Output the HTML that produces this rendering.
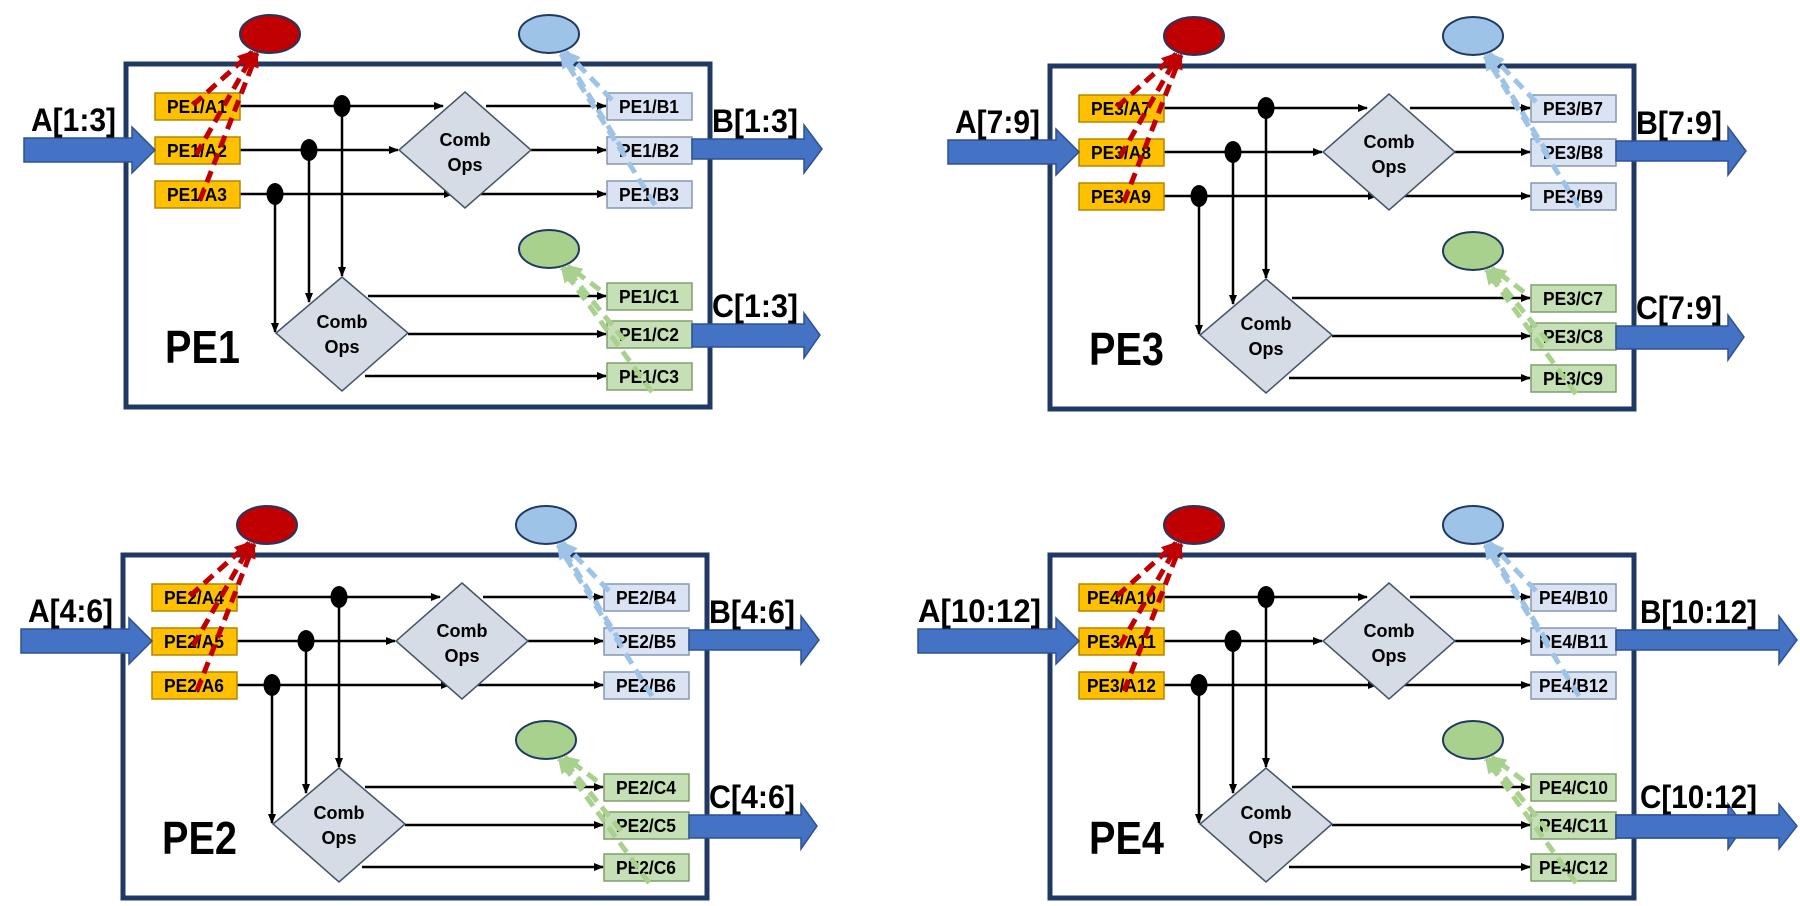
<!DOCTYPE html>
<html><head><meta charset="utf-8"><style>
html,body{margin:0;padding:0;background:#fff;}
svg{display:block;}
text{font-family:"Liberation Sans",sans-serif;font-weight:bold;fill:#000;}
.bl{font-size:18px;}
.co{font-size:18px;font-weight:normal;}
.big{font-size:32px;}
.pe{font-size:46px;}
</style></head><body>
<svg width="1800" height="906" viewBox="0 0 1800 906" xmlns="http://www.w3.org/2000/svg">
<defs>
<marker id="ah" markerWidth="10" markerHeight="8" refX="9" refY="4" orient="auto" markerUnits="userSpaceOnUse">
<path d="M0,0 L10,4 L0,8 z" fill="#000"/></marker>
<marker id="rh" markerWidth="16" markerHeight="14" refX="14" refY="7" orient="auto" markerUnits="userSpaceOnUse">
<path d="M0,0 L16,7 L0,14 z" fill="#c00000"/></marker>
<marker id="bh" markerWidth="16" markerHeight="14" refX="14" refY="7" orient="auto" markerUnits="userSpaceOnUse">
<path d="M0,0 L16,7 L0,14 z" fill="#9dc3e6"/></marker>
<marker id="gh" markerWidth="16" markerHeight="14" refX="14" refY="7" orient="auto" markerUnits="userSpaceOnUse">
<path d="M0,0 L16,7 L0,14 z" fill="#a9d18e"/></marker>
<g id="panel">
<rect x="126" y="64" width="584" height="343" fill="#fff" stroke="#1f3864" stroke-width="5"/>
<g stroke="#000" stroke-width="2.5" fill="none">
<line x1="240" y1="106" x2="443" y2="106" marker-end="url(#ah)"/>
<line x1="486" y1="106" x2="606" y2="106" marker-end="url(#ah)"/>
<line x1="240" y1="150" x2="398" y2="150" marker-end="url(#ah)"/>
<line x1="531" y1="150" x2="606" y2="150" marker-end="url(#ah)"/>
<line x1="240" y1="194" x2="453" y2="194" marker-end="url(#ah)"/>
<line x1="476" y1="194" x2="606" y2="194" marker-end="url(#ah)"/>
<line x1="342" y1="106" x2="342" y2="276" marker-end="url(#ah)"/>
<line x1="309" y1="150" x2="309" y2="302" marker-end="url(#ah)"/>
<line x1="275" y1="194" x2="275" y2="332" marker-end="url(#ah)"/>
<line x1="368" y1="296" x2="606" y2="296" marker-end="url(#ah)"/>
<line x1="408" y1="334" x2="606" y2="334" marker-end="url(#ah)"/>
<line x1="365" y1="376" x2="606" y2="376" marker-end="url(#ah)"/>
</g>
<polygon points="465,92 531,150 465,208 399,150" fill="#d6dce5" stroke="#44546a" stroke-width="1.5"/>
<polygon points="342,277 408,333 342,391 276,333" fill="#d6dce5" stroke="#44546a" stroke-width="1.5"/>
<ellipse cx="342" cy="106" rx="8.5" ry="11" fill="#000"/>
<ellipse cx="309" cy="150" rx="8.5" ry="11" fill="#000"/>
<ellipse cx="275" cy="194" rx="8.5" ry="11" fill="#000"/>
<g stroke-width="1.5">
<rect x="155" y="93" width="85" height="27" fill="#ffc000" stroke="#b38600"/>
<rect x="155" y="137" width="85" height="27" fill="#ffc000" stroke="#b38600"/>
<rect x="155" y="181" width="85" height="27" fill="#ffc000" stroke="#b38600"/>
<rect x="607" y="93" width="85" height="27" fill="#dae3f3" stroke="#8497b0"/>
<rect x="607" y="137" width="85" height="27" fill="#dae3f3" stroke="#8497b0"/>
<rect x="607" y="181" width="85" height="27" fill="#dae3f3" stroke="#8497b0"/>
<rect x="607" y="283" width="85" height="27" fill="#c5e0b4" stroke="#7f9f6f"/>
<rect x="607" y="321" width="85" height="27" fill="#c5e0b4" stroke="#7f9f6f"/>
<rect x="607" y="363" width="85" height="27" fill="#c5e0b4" stroke="#7f9f6f"/>
</g>
<ellipse cx="270" cy="34" rx="30" ry="19" fill="#c00000" stroke="#1f3864" stroke-width="2"/>
<ellipse cx="549" cy="34" rx="30" ry="19" fill="#9dc3e6" stroke="#1f3864" stroke-width="2"/>
<ellipse cx="549" cy="249" rx="30" ry="19" fill="#a9d18e" stroke="#1f3864" stroke-width="2"/>
<polygon points="692,324 804,324 804,313 820,335 804,358 804,347 692,347" fill="#4472c4" stroke="#2f528f" stroke-width="1.5"/>
</g>
<g id="dash">
<g stroke-width="5" stroke-dasharray="12,7" fill="none">
<line x1="193" y1="105" x2="252" y2="52" stroke="#c00000" marker-end="url(#rh)"/>
<line x1="196" y1="155" x2="254" y2="53" stroke="#c00000" marker-end="url(#rh)"/>
<line x1="200" y1="200" x2="257" y2="53" stroke="#c00000" marker-end="url(#rh)"/>
<line x1="612" y1="100" x2="566" y2="52" stroke="#9dc3e6" marker-end="url(#bh)"/>
<line x1="624" y1="152" x2="563" y2="53" stroke="#9dc3e6" marker-end="url(#bh)"/>
<line x1="655" y1="205" x2="561" y2="54" stroke="#9dc3e6" marker-end="url(#bh)"/>
<line x1="600" y1="290" x2="568" y2="266" stroke="#a9d18e" marker-end="url(#gh)"/>
<line x1="624" y1="340" x2="565" y2="267" stroke="#a9d18e" marker-end="url(#gh)"/>
<line x1="652" y1="392" x2="562" y2="268" stroke="#a9d18e" marker-end="url(#gh)"/>
</g>
</g>
</defs>

<!-- PE1 -->
<g transform="translate(0,0)">
<use href="#panel"/>
<polygon points="24,138 132,138 132,127 155,150 132,173 132,162 24,162" fill="#4472c4" stroke="#2f528f" stroke-width="1.5"/>
<polygon points="692,139 804,139 804,125 822,149 804,173 804,159 692,159" fill="#4472c4" stroke="#2f528f" stroke-width="1.5"/>
<g class="bl" lengthAdjust="spacingAndGlyphs">
<text x="167" y="113" textLength="60" lengthAdjust="spacingAndGlyphs">PE1/A1</text><text x="167" y="157" textLength="60" lengthAdjust="spacingAndGlyphs">PE1/A2</text><text x="167" y="201" textLength="60" lengthAdjust="spacingAndGlyphs">PE1/A3</text>
<text x="619" y="113" textLength="60" lengthAdjust="spacingAndGlyphs">PE1/B1</text><text x="619" y="157" textLength="60" lengthAdjust="spacingAndGlyphs">PE1/B2</text><text x="619" y="201" textLength="60" lengthAdjust="spacingAndGlyphs">PE1/B3</text>
<text x="619" y="303" textLength="60" lengthAdjust="spacingAndGlyphs">PE1/C1</text><text x="619" y="341" textLength="60" lengthAdjust="spacingAndGlyphs">PE1/C2</text><text x="619" y="383" textLength="60" lengthAdjust="spacingAndGlyphs">PE1/C3</text>
</g>
<g class="co" text-anchor="middle"><text x="465" y="146">Comb</text><text x="465" y="171">Ops</text><text x="342" y="328">Comb</text><text x="342" y="353">Ops</text></g>
<text class="big" x="31" y="131" textLength="85" lengthAdjust="spacingAndGlyphs">A[1:3]</text><text class="big" x="712" y="132" textLength="86" lengthAdjust="spacingAndGlyphs">B[1:3]</text><text class="big" x="712" y="317" textLength="86" lengthAdjust="spacingAndGlyphs">C[1:3]</text>
<text class="pe" x="165" y="363" textLength="75" lengthAdjust="spacingAndGlyphs">PE1</text>
<use href="#dash"/>
</g>

<!-- PE3 -->
<g transform="translate(924,2)">
<use href="#panel"/>
<polygon points="24,138 132,138 132,127 155,150 132,173 132,162 24,162" fill="#4472c4" stroke="#2f528f" stroke-width="1.5"/>
<polygon points="692,139 804,139 804,125 822,149 804,173 804,159 692,159" fill="#4472c4" stroke="#2f528f" stroke-width="1.5"/>
<g class="bl">
<text x="167" y="113" textLength="60" lengthAdjust="spacingAndGlyphs">PE3/A7</text><text x="167" y="157" textLength="60" lengthAdjust="spacingAndGlyphs">PE3/A8</text><text x="167" y="201" textLength="60" lengthAdjust="spacingAndGlyphs">PE3/A9</text>
<text x="619" y="113" textLength="60" lengthAdjust="spacingAndGlyphs">PE3/B7</text><text x="619" y="157" textLength="60" lengthAdjust="spacingAndGlyphs">PE3/B8</text><text x="619" y="201" textLength="60" lengthAdjust="spacingAndGlyphs">PE3/B9</text>
<text x="619" y="303" textLength="60" lengthAdjust="spacingAndGlyphs">PE3/C7</text><text x="619" y="341" textLength="60" lengthAdjust="spacingAndGlyphs">PE3/C8</text><text x="619" y="383" textLength="60" lengthAdjust="spacingAndGlyphs">PE3/C9</text>
</g>
<g class="co" text-anchor="middle"><text x="465" y="146">Comb</text><text x="465" y="171">Ops</text><text x="342" y="328">Comb</text><text x="342" y="353">Ops</text></g>
<text class="big" x="31" y="131" textLength="85" lengthAdjust="spacingAndGlyphs">A[7:9]</text><text class="big" x="712" y="132" textLength="86" lengthAdjust="spacingAndGlyphs">B[7:9]</text><text class="big" x="712" y="317" textLength="86" lengthAdjust="spacingAndGlyphs">C[7:9]</text>
<text class="pe" x="165" y="363" textLength="75" lengthAdjust="spacingAndGlyphs">PE3</text>
<use href="#dash"/>
</g>

<!-- PE2 -->
<g transform="translate(-3,491)">
<use href="#panel"/>
<polygon points="24,138 132,138 132,127 155,150 132,173 132,162 24,162" fill="#4472c4" stroke="#2f528f" stroke-width="1.5"/>
<polygon points="692,139 804,139 804,125 822,149 804,173 804,159 692,159" fill="#4472c4" stroke="#2f528f" stroke-width="1.5"/>
<g class="bl">
<text x="167" y="113" textLength="60" lengthAdjust="spacingAndGlyphs">PE2/A4</text><text x="167" y="157" textLength="60" lengthAdjust="spacingAndGlyphs">PE2/A5</text><text x="167" y="201" textLength="60" lengthAdjust="spacingAndGlyphs">PE2/A6</text>
<text x="619" y="113" textLength="60" lengthAdjust="spacingAndGlyphs">PE2/B4</text><text x="619" y="157" textLength="60" lengthAdjust="spacingAndGlyphs">PE2/B5</text><text x="619" y="201" textLength="60" lengthAdjust="spacingAndGlyphs">PE2/B6</text>
<text x="619" y="303" textLength="60" lengthAdjust="spacingAndGlyphs">PE2/C4</text><text x="619" y="341" textLength="60" lengthAdjust="spacingAndGlyphs">PE2/C5</text><text x="619" y="383" textLength="60" lengthAdjust="spacingAndGlyphs">PE2/C6</text>
</g>
<g class="co" text-anchor="middle"><text x="465" y="146">Comb</text><text x="465" y="171">Ops</text><text x="342" y="328">Comb</text><text x="342" y="353">Ops</text></g>
<text class="big" x="31" y="131" textLength="85" lengthAdjust="spacingAndGlyphs">A[4:6]</text><text class="big" x="712" y="132" textLength="86" lengthAdjust="spacingAndGlyphs">B[4:6]</text><text class="big" x="712" y="317" textLength="86" lengthAdjust="spacingAndGlyphs">C[4:6]</text>
<text class="pe" x="165" y="363" textLength="75" lengthAdjust="spacingAndGlyphs">PE2</text>
<use href="#dash"/>
</g>

<!-- PE4 -->
<g transform="translate(924,491)">
<use href="#panel"/>
<polygon points="-6,138 132,138 132,127 155,150 132,173 132,162 -6,162" fill="#4472c4" stroke="#2f528f" stroke-width="1.5"/>
<polygon points="692,139 855,139 855,125 873,149 855,173 855,159 692,159" fill="#4472c4" stroke="#2f528f" stroke-width="1.5"/>
<polygon points="692,324 855,324 855,313 873,335 855,358 855,347 692,347" fill="#4472c4" stroke="#2f528f" stroke-width="1.5"/>
<g class="bl">
<text x="163" y="113" textLength="69" lengthAdjust="spacingAndGlyphs">PE4/A10</text><text x="163" y="157" textLength="69" lengthAdjust="spacingAndGlyphs">PE3/A11</text><text x="163" y="201" textLength="69" lengthAdjust="spacingAndGlyphs">PE3/A12</text>
<text x="615" y="113" textLength="69" lengthAdjust="spacingAndGlyphs">PE4/B10</text><text x="615" y="157" textLength="69" lengthAdjust="spacingAndGlyphs">PE4/B11</text><text x="615" y="201" textLength="69" lengthAdjust="spacingAndGlyphs">PE4/B12</text>
<text x="615" y="303" textLength="69" lengthAdjust="spacingAndGlyphs">PE4/C10</text><text x="615" y="341" textLength="69" lengthAdjust="spacingAndGlyphs">PE4/C11</text><text x="615" y="383" textLength="69" lengthAdjust="spacingAndGlyphs">PE4/C12</text>
</g>
<g class="co" text-anchor="middle"><text x="465" y="146">Comb</text><text x="465" y="171">Ops</text><text x="342" y="328">Comb</text><text x="342" y="353">Ops</text></g>
<text class="big" x="-6" y="131" textLength="123" lengthAdjust="spacingAndGlyphs">A[10:12]</text><text class="big" x="716" y="132" textLength="117" lengthAdjust="spacingAndGlyphs">B[10:12]</text><text class="big" x="716" y="317" textLength="117" lengthAdjust="spacingAndGlyphs">C[10:12]</text>
<text class="pe" x="165" y="363" textLength="75" lengthAdjust="spacingAndGlyphs">PE4</text>
<use href="#dash"/>
</g>
</svg>
</body></html>
